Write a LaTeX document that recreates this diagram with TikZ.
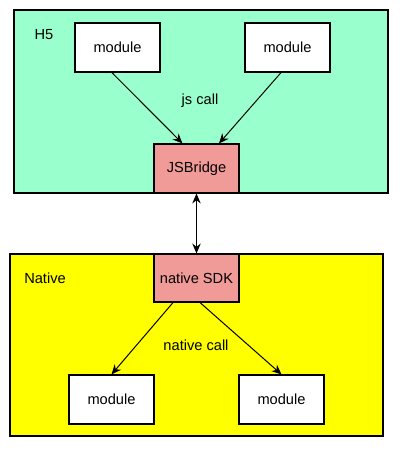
\documentclass[tikz,border=0pt]{standalone}
\usepackage{fontspec}
\setmainfont{Liberation Sans}
\usetikzlibrary{arrows.meta}
\definecolor{webgreen}{RGB}{153,255,204}
\definecolor{nativeyellow}{RGB}{255,255,0}
\definecolor{bridgered}{RGB}{240,155,152}
\tikzset{
  layer/.style={draw, line width=0.8pt, rectangle, inner sep=0pt},
  module/.style={draw, line width=0.8pt, fill=white, rectangle, minimum width=2.125cm, minimum height=1.225cm, inner sep=0pt},
  bridge/.style={module, fill=bridgered},
  call/.style={-{Stealth[length=7pt,width=6pt]}, line width=0.7pt},
}
\begin{document}
\begin{tikzpicture}[x=0.025cm, y=-0.025cm, font=\fontsize{10.4}{12}\selectfont]
    \useasboundingbox (0,0) rectangle (402,451);

    % H5 layer
    \node[layer, fill=webgreen, minimum width=9.35cm, minimum height=4.575cm] (h5) at (201,101.5) {};
    \node (h5label) at (44,35) {H5};
    \node[module] (jsmodA) at (117.5,47.5) {module};
    \node[module] (jsmodB) at (287.5,47.5) {module};
    \node[bridge] (jsbridge) at (196.5,168.5) {JSBridge};
    \node (jscall) at (200,101) {js call};

    % Native layer
    \node[layer, fill=nativeyellow, minimum width=9.325cm, minimum height=4.55cm] (native) at (196.5,345) {};
    \node (nativelabel) at (45,278) {Native};
    \node[bridge, minimum height=1.2cm] (sdk) at (196.5,278) {native SDK};
    \node[module] (nmodA) at (111.5,399.5) {module};
    \node[module] (nmodB) at (281.5,399.5) {module};
    \node (nativecall) at (196,345) {native call};

    % Arrows
    \draw[call] ([xshift=-4pt]jsmodA.south) -- ([xshift=-10pt]jsbridge.north);
    \draw[call] ([xshift=-4.6pt]jsmodB.south) -- ([xshift=16pt]jsbridge.north);
    \draw[call, {Stealth[length=7pt,width=6pt]}-{Stealth[length=7pt,width=6pt]}] (jsbridge.south) -- (sdk.north);
    \draw[call] ([xshift=-16.7pt]sdk.south) -- (nmodA.north);
    \draw[call] ([xshift=2.5pt]sdk.south) -- (nmodB.north);
\end{tikzpicture}
\end{document}
